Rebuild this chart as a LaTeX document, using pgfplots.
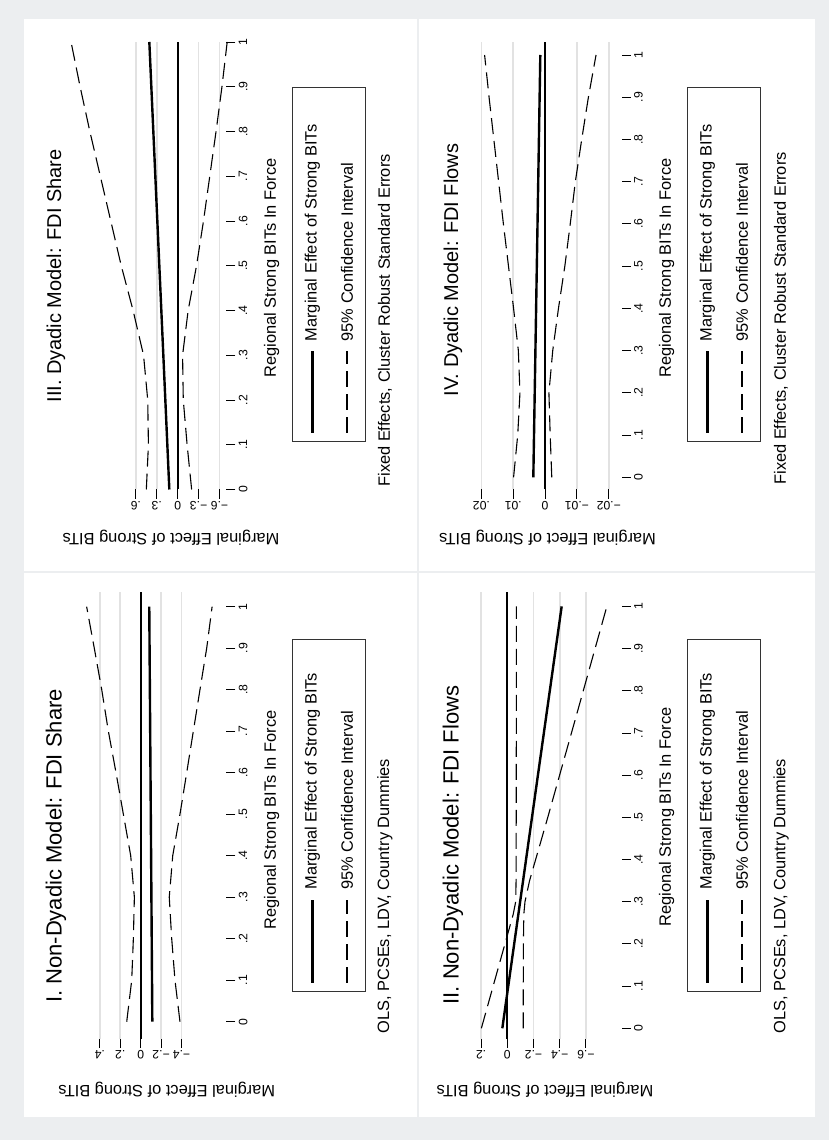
\documentclass[border=0pt]{standalone}
\usepackage{fontspec}
\setmainfont{Liberation Sans}
\usepackage{pgfplots}
\pgfplotsset{compat=1.18}
\definecolor{bgc}{RGB}{236,238,240}
\definecolor{gridc}{RGB}{226,226,226}
\newcommand\tk{\fontsize{6.1}{7}\selectfont}
\newcommand\lb{\fontsize{8.2}{9.5}\selectfont}
\newcommand\ttlA{\fontsize{10}{12}\selectfont}
\newcommand\ttlB{\fontsize{11}{13}\selectfont}
\tikzset{
 me/.style={black, line width=1.2pt},
 zl/.style={black, line width=1.1pt},
 ci/.style={black, line width=0.55pt, dash pattern=on 8pt off 3.5pt},
}
\pgfplotsset{
 panel/.style={scale only axis, anchor=center, x dir=reverse, clip=false,
  axis line style={draw=none}, xtick pos=bottom, ytick pos=right,
  tick align=outside, major tick length=4.6pt,
  tick style={black, line width=0.45pt},
  scaled x ticks=false, scaled y ticks=false,
  xmajorgrids, ymajorgrids=false, grid style={gridc, line width=0.8pt},
  ytick={0,0.1,0.2,0.3,0.4,0.5,0.6,0.7,0.8,0.9,1},
  yticklabels={0,.1,.2,.3,.4,.5,.6,.7,.8,.9,1},
  xticklabel style={rotate=180, anchor=south, font=\tk, inner sep=1pt},
  yticklabel style={rotate=90, anchor=north, font=\tk, inner sep=1.5pt},
  /pgf/number format/assume math mode=true,
 },
}
\begin{document}
\begin{tikzpicture}
\fill[bgc] (0,0) rectangle (414.5pt,570pt);
\fill[white] (12pt,284.5pt) rectangle (208.5pt,560.5pt);
\fill[white] (209.5pt,284.5pt) rectangle (407.5pt,560.5pt);
\fill[white] (12pt,11.5pt) rectangle (208.5pt,283.5pt);
\fill[white] (209.5pt,11.5pt) rectangle (407.5pt,283.5pt);

% ---------- III. Dyadic Model: FDI Share ----------
\begin{axis}[panel, at={(74.05pt,437.125pt)}, width=78.1pt, height=223.75pt,
 xmin=-0.6958, xmax=1.5452, ymin=0, ymax=1,
 xtick={-0.6,-0.3,0,0.3,0.6}, xticklabels={−.6,−.3,0,.3,.6}]
\addplot[zl] coordinates {(0,0) (0,1)};
\addplot[me] coordinates {(0.12,0) (0.407,1)};
\addplot[ci] coordinates {(0.45,0) (0.42,0.1) (0.43,0.2) (0.49,0.3) (0.64,0.4) (0.81,0.5) (0.96,0.6) (1.11,0.7) (1.26,0.8) (1.40,0.9) (1.53,1)};
\addplot[ci] coordinates {(-0.20,0) (-0.135,0.1) (-0.08,0.2) (-0.07,0.3) (-0.15,0.4) (-0.27,0.5) (-0.37,0.6) (-0.46,0.7) (-0.55,0.8) (-0.635,0.9) (-0.71,1)};
\end{axis}

% ---------- IV. Dyadic Model: FDI Flows ----------
\begin{axis}[panel, at={(271.625pt,437.125pt)}, width=78.25pt, height=223.75pt,
 xmin=-0.0240, xmax=0.02516, ymin=-0.0289, ymax=1.0308,
 xtick={-0.02,-0.01,0,0.01,0.02}, xticklabels={−.02,−.01,0,.01,.02}]
\addplot[zl] coordinates {(0,-0.0289) (0,1.0308)};
\addplot[me] coordinates {(0.0037,0) (0.0015,1)};
\addplot[ci] coordinates {(0.0099,0) (0.0086,0.1) (0.0079,0.2) (0.0084,0.3) (0.0099,0.4) (0.0115,0.5) (0.0131,0.6) (0.0146,0.7) (0.0161,0.8) (0.0176,0.9) (0.0190,1)};
\addplot[ci] coordinates {(-0.0021,0) (-0.0016,0.1) (-0.0012,0.2) (-0.0024,0.3) (-0.0042,0.4) (-0.0062,0.5) (-0.0079,0.6) (-0.0095,0.7) (-0.0115,0.8) (-0.0136,0.9) (-0.0160,1)};
\end{axis}

% ---------- I. Non-Dyadic Model: FDI Share ----------
\begin{axis}[panel, at={(74.05pt,162.175pt)}, width=78.1pt, height=223.35pt,
 xmin=-0.8382, xmax=0.6931, ymin=-0.0417, ymax=1.0347,
 xtick={-0.4,-0.2,0,0.2,0.4}, xticklabels={−.4,−.2,0,.2,.4}]
\addplot[zl] coordinates {(0,-0.0417) (0,1.0347)};
\addplot[me] coordinates {(-0.114,0) (-0.084,1)};
\addplot[ci] coordinates {(0.137,0) (0.088,0.1) (0.072,0.2) (0.062,0.3) (0.098,0.4) (0.17,0.5) (0.242,0.6) (0.317,0.7) (0.382,0.8) (0.455,0.9) (0.53,1)};
\addplot[ci] coordinates {(-0.385,0) (-0.336,0.1) (-0.304,0.2) (-0.28,0.3) (-0.314,0.4) (-0.385,0.5) (-0.451,0.6) (-0.516,0.7) (-0.581,0.8) (-0.647,0.9) (-0.70,1)};
\end{axis}

% ---------- II. Non-Dyadic Model: FDI Flows ----------
\begin{axis}[panel, at={(271.625pt,162.175pt)}, width=78.25pt, height=223.35pt,
 xmin=-0.8718, xmax=0.3229, ymin=-0.0254, ymax=1.0334,
 xtick={-0.6,-0.4,-0.2,0,0.2}, xticklabels={−.6,−.4,−.2,0,.2}]
\addplot[zl] coordinates {(0,-0.0254) (0,1.0334)};
\addplot[me] coordinates {(0.038,0) (-0.415,1)};
\addplot[ci] coordinates {(0.198,0) (0.108,0.1) (0.018,0.2) (-0.045,0.27) (-0.064,0.3) (-0.067,0.35) (-0.068,0.5) (-0.069,0.75) (-0.069,1)};
\addplot[ci] coordinates {(-0.122,0) (-0.122,0.1) (-0.123,0.2) (-0.126,0.27) (-0.135,0.3) (-0.17,0.35) (-0.309,0.5) (-0.535,0.75) (-0.76,1)};
\end{axis}

% ---------- texts ----------
\begin{scope}[every node/.style={inner sep=0pt}]
\node[rotate=90, font=\ttlA] at (28pt,432pt) {III. Dyadic Model: FDI Share};
\node[rotate=90, font=\ttlA] at (226.5pt,435pt) {IV. Dyadic Model: FDI Flows};
\node[rotate=90, font=\ttlB] at (28pt,147pt) {I. Non-Dyadic Model: FDI Share};
\node[rotate=90, font=\ttlB] at (226.5pt,147.5pt) {II. Non-Dyadic Model: FDI Flows};
\node[rotate=90, font=\lb] at (135.85pt,436pt) {Regional Strong BITs In Force};
\node[rotate=90, font=\lb] at (333.35pt,436pt) {Regional Strong BITs In Force};
\node[rotate=90, font=\lb] at (135.85pt,160pt) {Regional Strong BITs In Force};
\node[rotate=90, font=\lb] at (333.35pt,161.5pt) {Regional Strong BITs In Force};
\node[rotate=180, font=\lb] at (85.5pt,301.25pt) {Marginal Effect of Strong BITs};
\node[rotate=180, font=\lb] at (273.75pt,301.25pt) {Marginal Effect of Strong BITs};
\node[rotate=180, font=\lb] at (83.35pt,25pt) {Marginal Effect of Strong BITs};
\node[rotate=180, font=\lb] at (272.5pt,25pt) {Marginal Effect of Strong BITs};
\node[rotate=90, anchor=west, font=\lb] at (192.5pt,326.5pt) {Fixed Effects, Cluster Robust Standard Errors};
\node[rotate=90, anchor=west, font=\lb] at (390.5pt,327.5pt) {Fixed Effects, Cluster Robust Standard Errors};
\node[rotate=90, anchor=west, font=\lb] at (192.5pt,53pt) {OLS, PCSEs, LDV, Country Dummies};
\node[rotate=90, anchor=west, font=\lb] at (390.5pt,53pt) {OLS, PCSEs, LDV, Country Dummies};
\foreach \dx/\ya/\yb/\sa/\sb/\ts in {0pt/349pt/526pt/353.5pt/394.5pt/399.15pt, 197.5pt/349pt/526pt/353.5pt/394.5pt/399.15pt, 0pt/74pt/250pt/78.5pt/120pt/125pt, 197.5pt/74pt/250pt/78.5pt/120pt/125pt}{
 \begin{scope}[xshift=\dx]
 \draw[line width=0.5pt, draw=black!80] (146.35pt,\ya) rectangle (182.5pt,\yb);
 \draw[me] (156.25pt,\sa) -- (156.25pt,\sb);
 \node[rotate=90, anchor=west, font=\lb] at (156.25pt,\ts) {Marginal Effect of Strong BITs};
 \draw[ci] (173.5pt,\sa) -- (173.5pt,\sb);
 \node[rotate=90, anchor=west, font=\lb] at (173.5pt,\ts) {95\% Confidence Interval};
 \end{scope}
}
\end{scope}
\end{tikzpicture}
\end{document}
